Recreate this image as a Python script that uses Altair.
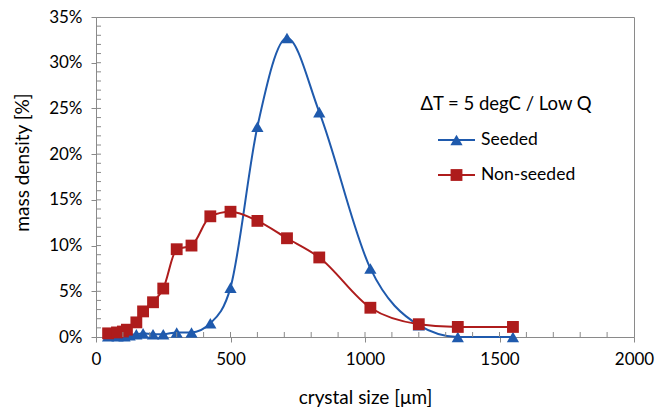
import altair as alt
import pandas as pd

# Crystal size distributions (mass density, %) for the two runs
sizes_seeded = [45, 80, 106, 125, 150, 175, 212, 250, 300, 355, 425, 500, 600, 710, 830, 1020, 1200, 1345, 1550]
seeded = [0.1, 0.1, 0.1, 0.2, 0.3, 0.4, 0.3, 0.3, 0.5, 0.5, 1.5, 5.4, 23.0, 32.7, 24.6, 7.5, 1.3, 0.0, 0.0]

sizes_nonseeded = [45, 78, 100, 115, 150, 175, 212, 250, 300, 355, 425, 500, 600, 710, 830, 1020, 1200, 1345, 1550]
nonseeded = [0.4, 0.5, 0.6, 0.8, 1.6, 2.8, 3.8, 5.3, 9.6, 10.0, 13.2, 13.7, 12.7, 10.8, 8.7, 3.2, 1.4, 1.1, 1.1]

series_names = ["Seeded", "Non-seeded"]
series_shapes = ["triangle-up", "square"]
legend_heading = "ΔT = 5 degC / Low Q"

x_major = [0, 500, 1000, 1500, 2000]
y_major = [0, 5, 10, 15, 20, 25, 30, 35]
x_minor = list(range(100, 2000, 100))
y_minor = list(range(1, 35))

BLUE = "#1F5AAD"
RED = "#AE1C1C"
AXIS_GREY = "#8a8a8a"
FONT = "Lato"
series_colors = [BLUE, RED]

rows = []
for s, v in zip(sizes_seeded, seeded):
    rows.append({"size": s, "density": v / 100, "series": "Seeded"})
for s, v in zip(sizes_nonseeded, nonseeded):
    rows.append({"size": s, "density": v / 100, "series": "Non-seeded"})
df = pd.DataFrame(rows)

x_enc = alt.X(
    "size:Q",
    title="crystal size  [μm]",
    scale=alt.Scale(domain=[0, 2000], nice=False),
    axis=alt.Axis(values=x_major, format="d", labelFlush=False, titlePadding=21, labelPadding=9),
)
y_enc = alt.Y(
    "density:Q",
    title="mass density [%]",
    scale=alt.Scale(domain=[0, 0.35], nice=False),
    axis=alt.Axis(
        values=[v / 100 for v in y_major], format=".0%", labelPadding=9,
        titleX=-64, titleY=145, titleAngle=-90, titleAlign="center", titleBaseline="bottom",
    ),
)

color_scale = alt.Scale(domain=series_names, range=series_colors)

lines = alt.Chart(df).mark_line(interpolate="monotone", strokeWidth=2).encode(
    x=x_enc,
    y=y_enc,
    color=alt.Color("series:N", scale=color_scale, legend=None),
    detail="series:N",
)

marker_layers = []
for name, shape in zip(series_names, series_shapes):
    marker_layers.append(
        alt.Chart(df)
        .transform_filter(alt.datum.series == name)
        .mark_point(shape=shape, filled=True, size=150 if shape == "triangle-up" else 140, opacity=1)
        .encode(x=x_enc, y=y_enc, color=alt.Color("series:N", scale=color_scale, legend=None))
    )

# Inner tick marks along both axes
x_inner_ticks = alt.Chart(pd.DataFrame({"size": x_minor})).mark_rule(
    color=AXIS_GREY, strokeWidth=1
).encode(x=x_enc, y=alt.value(320), y2=alt.value(315))

y_inner_ticks = alt.Chart(pd.DataFrame({"density": [v / 100 for v in y_minor]})).mark_rule(
    color=AXIS_GREY, strokeWidth=1
).encode(y=y_enc, x=alt.value(0), x2=alt.value(5))

# Legend block: heading, then one row per series (line sample + marker + label)
LEG_LEFT, LEG_RIGHT, LEG_TOP, LEG_STEP = 342, 379, 123, 35
heading = alt.Chart(pd.DataFrame({"t": [legend_heading]})).mark_text(
    font=FONT, fontSize=18.5, color="#000000", align="center", baseline="alphabetic"
).encode(text="t:N", x=alt.value(410), y=alt.value(93))

legend_layers = []
for i, (name, shape, col) in enumerate(zip(series_names, series_shapes, series_colors)):
    row_y = LEG_TOP + i * LEG_STEP
    row = pd.DataFrame({"series": [name]})
    legend_layers.append(
        alt.Chart(row).mark_rule(color=col, strokeWidth=2).encode(
            x=alt.value(LEG_LEFT), x2=alt.value(LEG_RIGHT), y=alt.value(row_y)
        )
    )
    legend_layers.append(
        alt.Chart(row).mark_point(shape=shape, filled=True, size=150 if shape == "triangle-up" else 140,
                                  color=col, opacity=1).encode(
            x=alt.value((LEG_LEFT + LEG_RIGHT) / 2), y=alt.value(row_y)
        )
    )
    legend_layers.append(
        alt.Chart(row).mark_text(font=FONT, fontSize=17.5, color="#000000", align="left",
                                 baseline="middle").encode(
            text="series:N", x=alt.value(LEG_RIGHT + 6), y=alt.value(row_y)
        )
    )

chart = (
    alt.layer(lines, *marker_layers, x_inner_ticks, y_inner_ticks, heading, *legend_layers)
    .properties(
        width=538,
        height=320,
        autosize=alt.AutoSizeParams(type="none"),
        padding={"left": 96, "top": 17, "right": 22, "bottom": 70},
        background="#ffffff",
    )
    .configure_view(stroke=AXIS_GREY, strokeWidth=1)
    .configure_axis(
        grid=False,
        domainColor=AXIS_GREY,
        tickColor=AXIS_GREY,
        tickSize=5,
        labelFont=FONT,
        labelFontSize=17,
        labelColor="#000000",
        titleFont=FONT,
        titleFontSize=19,
        titleFontWeight="normal",
        titleColor="#000000",
    )
)

chart.save("out.html", embed_options={"renderer": "svg", "actions": False})
